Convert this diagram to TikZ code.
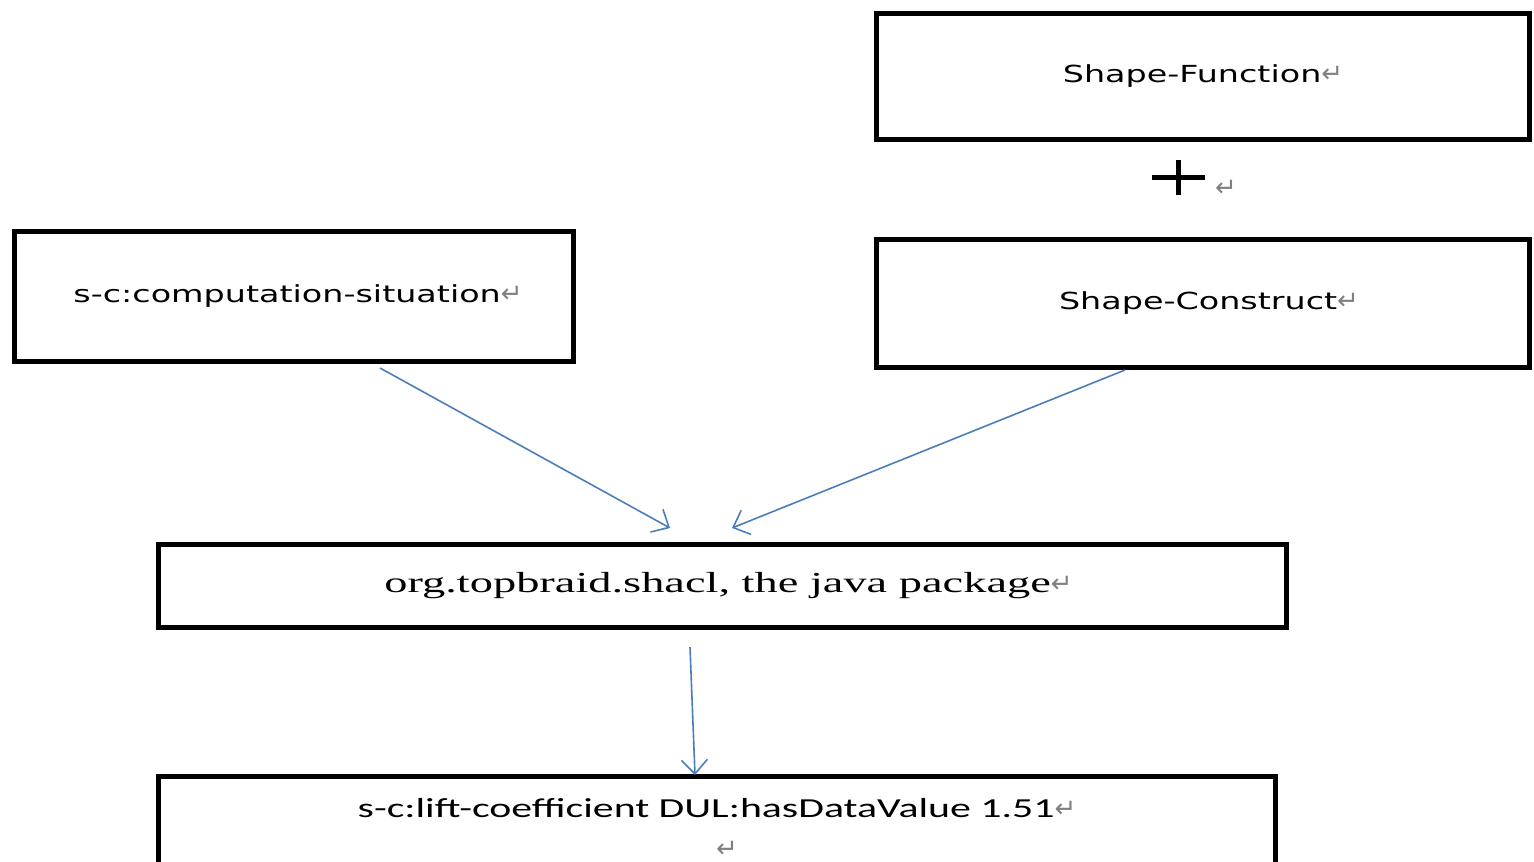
\documentclass[tikz,border=0pt]{standalone}
\usepackage{fontspec}
\usetikzlibrary{arrows.meta}
\newfontfamily\sansbox[FakeStretch=1.42]{DejaVu Sans}
\newfontfamily\serifbox[FakeStretch=1.6]{Liberation Serif}
\newfontfamily\liftbox[FakeStretch=1.52]{Carlito}
\newfontfamily\retfont{DejaVu Sans}
\definecolor{arrowblue}{HTML}{4A7EBB}
\definecolor{retgray}{HTML}{808080}
\newcommand\pmark{{\retfont\fontsize{26}{26}\selectfont\color{retgray}↵}}
\begin{document}
\begin{tikzpicture}[x=1pt,y=-1pt,
  box/.style={draw, line width=5pt, inner sep=0pt, fill=white},
  sanstext/.style={font=\sansbox\fontsize{23.5}{28}\selectfont},
  seriftext/.style={font=\serifbox\fontsize{29}{34}\selectfont},
  lifttext/.style={font=\liftbox\fontsize{27.5}{40}\selectfont, align=center},
  flow/.style={draw=arrowblue, line width=1.6pt, -{Straight Barb[length=14pt,width=26pt,line width=1.6pt]}},
  plusline/.style={line width=5pt}
]
\clip (0,0) rectangle (1534,862);
\fill[white] (0,0) rectangle (1534,862);

\node[box, sanstext, minimum width=653pt, minimum height=126pt] (sf) at (1203,76.5) {Shape-Function\pmark};
\node[box, sanstext, minimum width=653pt, minimum height=128pt] (sc) at (1203,303.5) {\hspace*{12pt}Shape-Construct\pmark};
\node[box, sanstext, minimum width=559pt, minimum height=130pt] (cs) at (294,296.5) {\hspace*{8pt}s-c:computation-situation\pmark};
\node[box, seriftext, minimum width=1128pt, minimum height=83pt] (org) at (722.5,586) {\hspace*{12pt}org.topbraid.shacl, the java package\pmark};
\node[box, lifttext, minimum width=1117pt, minimum height=103pt] (lift) at (717,828) {s-c:lift-coefficient DUL:hasDataValue 1.51\pmark\\\hspace*{20pt}\pmark};

% plus sign between the two shape boxes
\coordinate (plusc) at (1178,177);
\draw[plusline] ([xshift=-26pt]plusc) -- ([xshift=27pt]plusc);
\draw[plusline] ([yshift=17pt]plusc) -- ([yshift=-18pt]plusc);
\node[inner sep=0pt] (plusret) at (1226,188) {\pmark};

% arrows
\path (cs.south) ++(86,4) coordinate (a1s);
\path (org.north) ++(-52.5,-14) coordinate (a1e);
\path (sc.south) ++(-78,0) coordinate (a2s);
\path (org.north) ++(9.5,-14) coordinate (a2e);
\path (org.south) ++(-32.5,17) coordinate (a3s);
\path (lift.north) ++(-22,1) coordinate (a3e);
\draw[flow] (a1s) -- (a1e);
\draw[flow] (a2s) -- (a2e);
\draw[flow] (a3s) -- (a3e);
\end{tikzpicture}
\end{document}
